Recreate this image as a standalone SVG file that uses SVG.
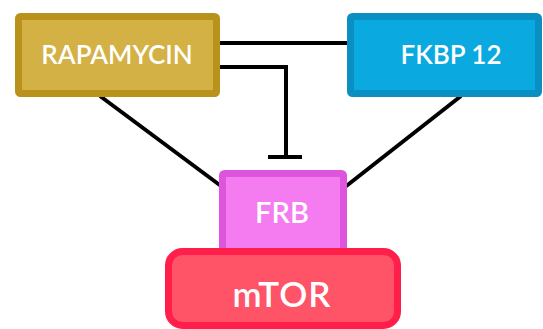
<svg xmlns="http://www.w3.org/2000/svg" width="543" height="329" viewBox="0 0 543 329">
<style>
.lbl{font-family:Lato,"Open Sans","Liberation Sans",sans-serif;fill:#ffffff;text-anchor:middle;font-weight:600}
.conn{stroke:#000;stroke-width:4;fill:none}
</style>
<rect width="543" height="329" fill="#ffffff"/>
<g id="connectors">
<line class="conn" x1="218" y1="43" x2="349" y2="43"/>
<polyline class="conn" points="218,67 286,67 286,157"/>
<line class="conn" x1="268" y1="157" x2="302" y2="157"/>
<line class="conn" x1="100" y1="96" x2="221" y2="186"/>
<line class="conn" x1="461" y1="96" x2="345" y2="187"/>
</g>
<g id="rapamycin">
<rect x="18.5" y="16.5" width="198" height="77" rx="2" fill="#d4b145" stroke="#b8921a" stroke-width="7"/>
<text class="lbl" x="117" y="64" font-size="26">RAPAMYCIN</text>
</g>
<g id="fkbp12">
<rect x="350.5" y="16.5" width="188" height="77" rx="2" fill="#0aa9e0" stroke="#0a8fc3" stroke-width="7"/>
<text class="lbl" x="451" y="64" font-size="26">FKBP 12</text>
</g>
<g id="frb">
<rect x="222.5" y="173.5" width="121" height="80" rx="2" fill="#f47cf0" stroke="#dd55dd" stroke-width="7"/>
<text class="lbl" x="282" y="223" font-size="29">FRB</text>
</g>
<g id="mtor">
<rect x="168.5" y="251.5" width="229" height="74" rx="14" fill="#ff5468" stroke="#ff1f4a" stroke-width="7"/>
<text class="lbl" x="282" y="307" font-size="35" letter-spacing="1">mTOR</text>
</g>
</svg>
